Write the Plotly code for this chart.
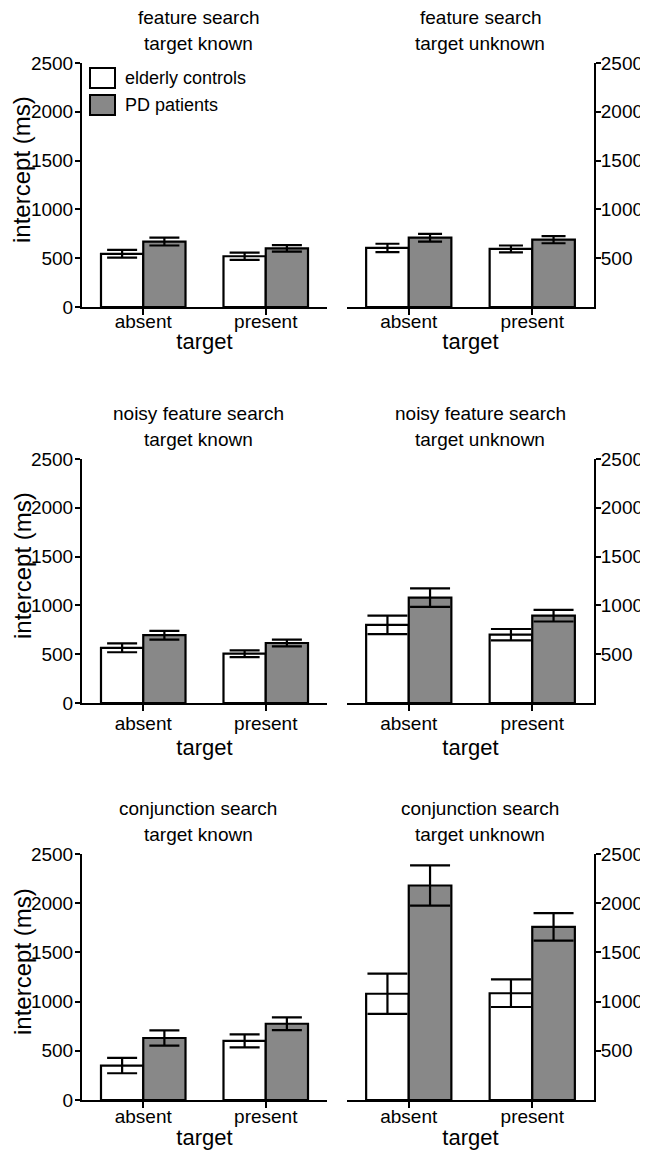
import plotly.graph_objects as go

# The page body adds an 8px margin; the figure is sized to fill the rest.
PAGE_W, PAGE_H = 648, 1154
OFF = 8
W, H = PAGE_W - OFF, PAGE_H - OFF

categories = ["absent", "present"]

panel_line1 = ["feature search", "feature search",
               "noisy feature search", "noisy feature search",
               "conjunction search", "conjunction search"]
panel_line2 = ["target known", "target unknown",
               "target known", "target unknown",
               "target known", "target unknown"]

controls_mean = [
    [545, 520],    # feature, known
    [605, 595],    # feature, unknown
    [565, 505],    # noisy, known
    [800, 700],    # noisy, unknown
    [350, 600],    # conjunction, known
    [1080, 1085],  # conjunction, unknown
]
controls_err = [
    [40, 38],
    [43, 35],
    [45, 35],
    [95, 58],
    [78, 66],
    [205, 140],
]
patients_mean = [
    [670, 600],
    [710, 690],
    [695, 615],
    [1080, 895],
    [630, 775],
    [2180, 1760],
]
patients_err = [
    [40, 33],
    [40, 37],
    [45, 34],
    [95, 60],
    [77, 65],
    [205, 140],
]

left_ticks = [0, 500, 1000, 1500, 2000, 2500]
right_ticks = [500, 1000, 1500, 2000, 2500]
series_names = ["elderly controls", "PD patients"]

# ---- layout geometry (page pixels) ----
col_px = [(82, 327), (347, 594)]
row_px = [(63, 307), (459, 703), (854, 1100)]
cap_w = [15, 12, 15, 20, 15, 20]
x_lab_standoff = [-10, -4, -8]
x_title_standoff = [3, 7, 4]
FONT = "Liberation Sans, Arial, sans-serif"
GREY = "#888888"

def px_x(p):
    return (p - OFF) / W

def px_y(p):
    return 1 - (p - OFF) / H

fig = go.Figure()
layout = dict(
    width=W, height=H, margin=dict(l=0, r=0, t=0, b=0),
    paper_bgcolor="white", plot_bgcolor="white",
    barmode="group", bargap=0.31, bargroupgap=0,
    showlegend=False, font=dict(family=FONT, color="black"),
)
annotations = []
shapes = []

for i in range(6):
    r, c = divmod(i, 2)
    n = i + 1
    xa = "x" if n == 1 else f"x{n}"
    ya = "y" if n == 1 else f"y{n}"
    for s, (means, errs, color) in enumerate([
        (controls_mean[i], controls_err[i], "white"),
        (patients_mean[i], patients_err[i], GREY),
    ]):
        fig.add_trace(go.Bar(
            x=categories, y=means, name=series_names[s],
            marker=dict(color=color, line=dict(color="black", width=2.2)),
            error_y=dict(type="data", array=errs, color="black",
                         thickness=2.2, width=cap_w[i]),
            xaxis=xa, yaxis=ya, offsetgroup=str(s),
        ))
    x0, x1 = col_px[c]
    y0, y1 = row_px[r]
    layout[f"xaxis{n}"] = dict(
        domain=[px_x(x0), px_x(x1)], anchor=ya, automargin=False,
        range=[-0.5, 1.5], showline=True, linecolor="black", linewidth=2,
        ticks="outside", ticklen=6, tickwidth=2, tickcolor="black",
        showgrid=False, zeroline=False,
        tickfont=dict(size=19, family=FONT),
        ticklabelstandoff=x_lab_standoff[r],
        title=dict(text="target", font=dict(size=22, family=FONT),
                   standoff=x_title_standoff[r]),
        fixedrange=True,
    )
    layout[f"yaxis{n}"] = dict(
        domain=[px_y(y1), px_y(y0)], anchor=xa, automargin=False,
        range=[0, 2500], showline=True, linecolor="black", linewidth=2,
        ticks="outside", ticklen=5, tickwidth=2, tickcolor="black",
        showgrid=False, zeroline=False,
        tickvals=left_ticks if c == 0 else right_ticks,
        tickfont=dict(size=19, family=FONT),
        ticklabelstandoff=-2 if c == 0 else -4,
        side="left" if c == 0 else "right",
        fixedrange=True,
    )
    # panel titles
    cx = 198 if c == 0 else 480
    annotations.append(dict(
        text=panel_line1[i], x=px_x(cx), y=px_y(y0 - 46), xref="paper", yref="paper",
        xanchor="center", yanchor="middle", showarrow=False,
        font=dict(size=19, family=FONT)))
    annotations.append(dict(
        text=panel_line2[i], x=px_x(cx), y=px_y(y0 - 20), xref="paper", yref="paper",
        xanchor="center", yanchor="middle", showarrow=False,
        font=dict(size=19, family=FONT)))
    if c == 0:
        annotations.append(dict(
            text="intercept (ms)", x=px_x(22), y=px_y((y0 + y1) / 2 - 15),
            xref="paper", yref="paper", xanchor="center", yanchor="middle",
            textangle=-90, showarrow=False, font=dict(size=24, family=FONT)))

# legend drawn in the first panel
leg_items = [("elderly controls", "white", 68, 88), ("PD patients", GREY, 95, 115)]
for label, col, t, b in leg_items:
    shapes.append(dict(type="rect", xref="paper", yref="paper",
                       x0=px_x(90), x1=px_x(115), y0=px_y(b), y1=px_y(t),
                       fillcolor=col, line=dict(color="black", width=2)))
    annotations.append(dict(
        text=label, x=px_x(123), y=px_y((t + b) / 2), xref="paper", yref="paper",
        xanchor="left", yanchor="middle", showarrow=False,
        font=dict(size=18, family=FONT)))

layout["annotations"] = annotations
layout["shapes"] = shapes
fig.update_layout(**layout)
fig.write_html("out.html")
